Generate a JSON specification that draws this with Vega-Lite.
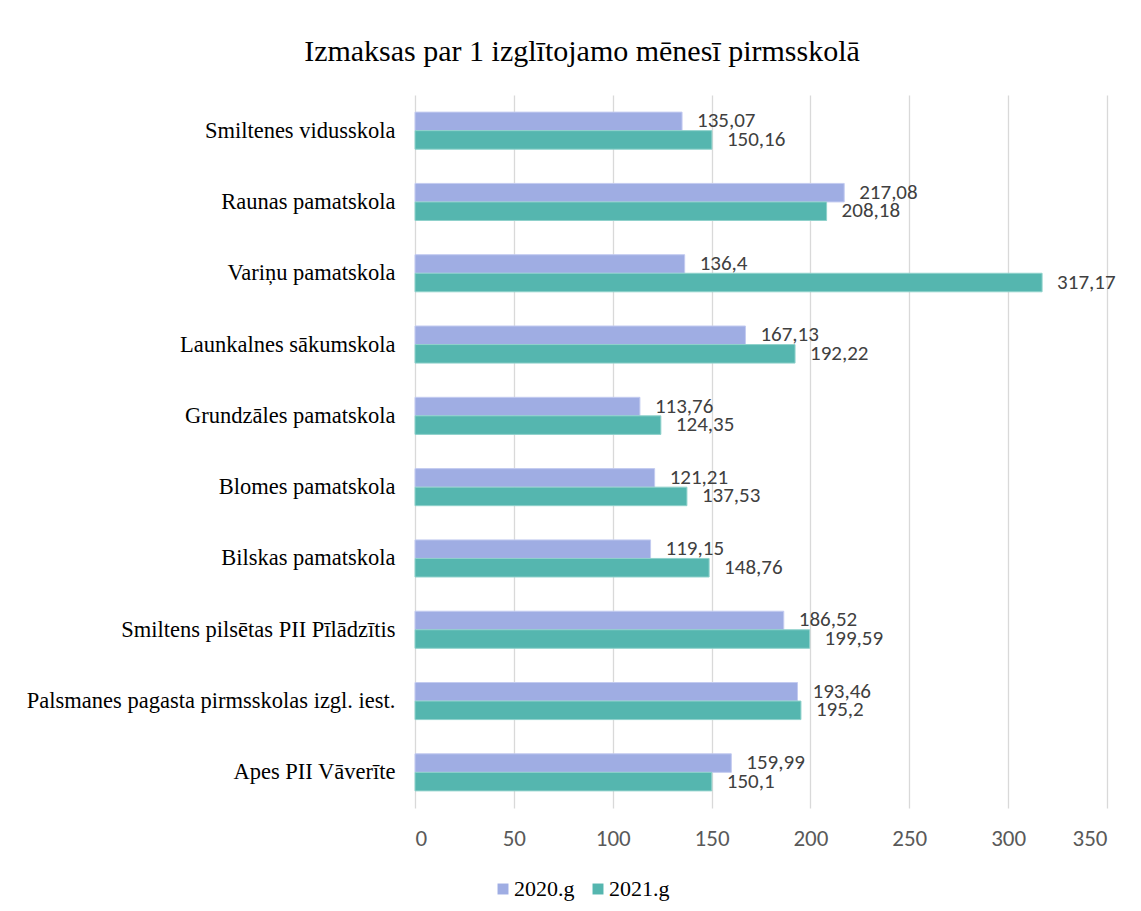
{
  "$schema": "https://vega.github.io/schema/vega-lite/v6.json",
  "autosize": {"type": "none"},
  "width": 692,
  "height": 713,
  "padding": {"left": 415, "top": 95, "right": 34, "bottom": 103},
  "background": "white",
  "config": {
    "locale": {"number": {"decimal": ",", "thousands": " ", "grouping": [3], "currency": ["", " €"]}},
    "view": {"stroke": null}
  },
  "title": {
    "text": "Izmaksas par 1 izglītojamo mēnesī pirmsskolā",
    "font": "Liberation Serif",
    "fontSize": 30,
    "fontWeight": "normal",
    "color": "#000000",
    "anchor": "middle",
    "frame": "group",
    "dx": -179,
    "offset": 28
  },
  "data": {
    "values": [
      {"school": "Smiltenes vidusskola", "year": "2020.g", "value": 135.07},
      {"school": "Smiltenes vidusskola", "year": "2021.g", "value": 150.16},
      {"school": "Raunas pamatskola", "year": "2020.g", "value": 217.08},
      {"school": "Raunas pamatskola", "year": "2021.g", "value": 208.18},
      {"school": "Variņu pamatskola", "year": "2020.g", "value": 136.4},
      {"school": "Variņu pamatskola", "year": "2021.g", "value": 317.17},
      {"school": "Launkalnes sākumskola", "year": "2020.g", "value": 167.13},
      {"school": "Launkalnes sākumskola", "year": "2021.g", "value": 192.22},
      {"school": "Grundzāles pamatskola", "year": "2020.g", "value": 113.76},
      {"school": "Grundzāles pamatskola", "year": "2021.g", "value": 124.35},
      {"school": "Blomes pamatskola", "year": "2020.g", "value": 121.21},
      {"school": "Blomes pamatskola", "year": "2021.g", "value": 137.53},
      {"school": "Bilskas pamatskola", "year": "2020.g", "value": 119.15},
      {"school": "Bilskas pamatskola", "year": "2021.g", "value": 148.76},
      {"school": "Smiltens pilsētas PII Pīlādzītis", "year": "2020.g", "value": 186.52},
      {"school": "Smiltens pilsētas PII Pīlādzītis", "year": "2021.g", "value": 199.59},
      {"school": "Palsmanes pagasta pirmsskolas izgl. iest.", "year": "2020.g", "value": 193.46},
      {"school": "Palsmanes pagasta pirmsskolas izgl. iest.", "year": "2021.g", "value": 195.2},
      {"school": "Apes PII Vāverīte", "year": "2020.g", "value": 159.99},
      {"school": "Apes PII Vāverīte", "year": "2021.g", "value": 150.1}
    ]
  },
  "encoding": {
    "y": {
      "field": "school",
      "type": "nominal",
      "sort": null,
      "scale": {"paddingInner": 0.48, "paddingOuter": 0.24},
      "axis": {
        "title": null,
        "domain": false,
        "ticks": false,
        "labelPadding": 20,
        "labelFont": "Liberation Serif",
        "labelFontSize": 22.5,
        "labelColor": "#000000",
        "labelLimit": 420
      }
    },
    "yOffset": {"field": "year", "type": "nominal", "scale": {"paddingInner": 0, "paddingOuter": 0}},
    "x": {
      "field": "value",
      "type": "quantitative",
      "scale": {"domain": [0, 350], "nice": false},
      "axis": {
        "title": null,
        "values": [0, 50, 100, 150, 200, 250, 300, 350],
        "domain": false,
        "ticks": false,
        "grid": true,
        "gridColor": "#d9d9d9",
        "gridWidth": 1.3,
        "labelPadding": 19,
        "labelFont": "Carlito, Liberation Sans Narrow, Liberation Sans",
        "labelFontSize": 23,
        "labelColor": "#595959",
        "format": "d"
      }
    }
  },
  "layer": [
    {
      "mark": {"type": "bar", "strokeWidth": 1},
      "encoding": {
        "color": {
          "field": "year",
          "type": "nominal",
          "scale": {"domain": ["2020.g", "2021.g"], "range": ["#9fade3", "#55b6af"]},
          "legend": {
            "title": null,
            "orient": "none",
            "direction": "horizontal",
            "legendX": 77,
            "legendY": 783,
            "symbolType": "square",
            "symbolSize": 120,
            "symbolStrokeWidth": 0,
            "labelFont": "Liberation Serif",
            "labelFontSize": 22,
            "labelColor": "#000000",
            "labelOffset": 0,
            "columnPadding": 12
          }
        },
        "stroke": {
          "field": "year",
          "type": "nominal",
          "scale": {"domain": ["2020.g", "2021.g"], "range": ["#c3cbf0", "#8fd1cb"]},
          "legend": null
        }
      }
    },
    {
      "mark": {
        "type": "text",
        "align": "left",
        "baseline": "middle",
        "dx": 15,
        "font": "Carlito, Liberation Sans Narrow, Liberation Sans",
        "fontSize": 21,
        "color": "#404040"
      },
      "encoding": {
        "text": {"field": "value", "type": "quantitative", "format": ".2~f"}
      }
    }
  ]
}
